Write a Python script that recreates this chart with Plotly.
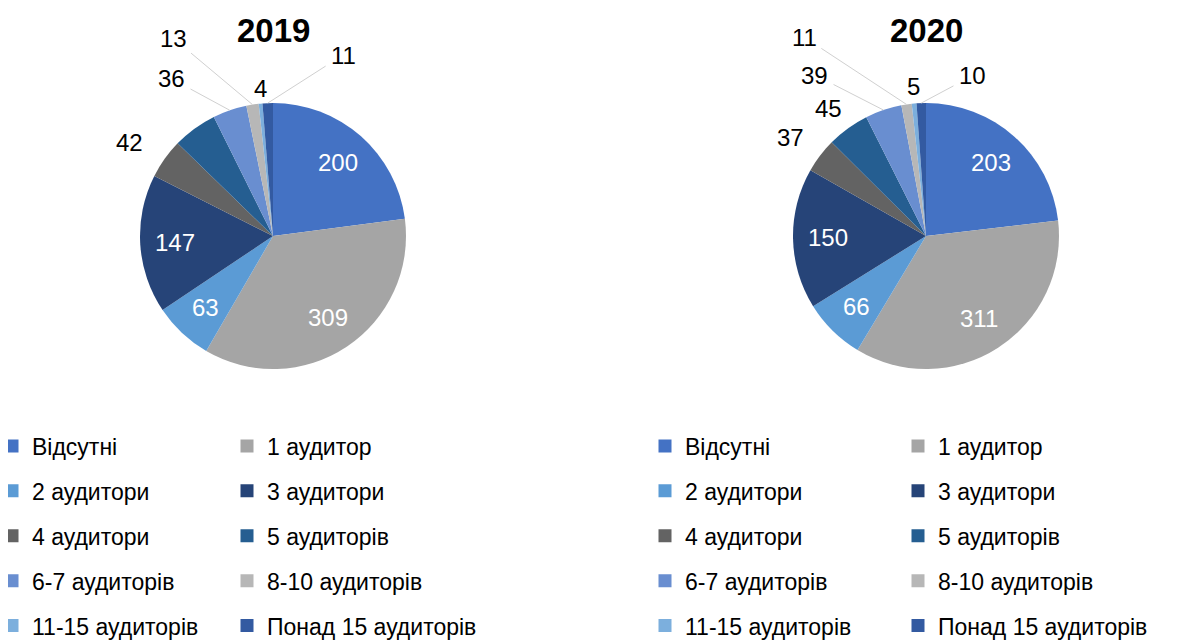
import math
import plotly.graph_objects as go

# Categories and values
categories = ["Відсутні", "1 аудитор", "2 аудитори", "3 аудитори", "4 аудитори",
              "5 аудиторів", "6-7 аудиторів", "8-10 аудиторів", "11-15 аудиторів",
              "Понад 15 аудиторів"]
values_2019 = [200, 309, 63, 147, 42, 47, 36, 13, 4, 11]   # "5 аудиторів" is unlabelled, estimated from angle
values_2020 = [203, 311, 66, 150, 37, 45, 39, 11, 5, 10]
years = ["2019", "2020"]

colors = ["#4472C4", "#A5A5A5", "#5B9BD5", "#264478", "#636363",
          "#255E91", "#698ED0", "#B7B7B7", "#7CAFDD", "#335AA1"]

W, H = 1199, 640
OFF = 8          # page margin around the figure in the browser
FONT = "Arial, 'Liberation Sans', sans-serif"
R = 133
INSIDE_R = 0.74  # inside labels sit at this fraction of the radius


def px_x(x):
    return (x - OFF) / W


def px_y(y):
    return 1 - (y - OFF) / H


# small slices get their labels outside: slice index -> (label x px, label y px, leader line)
outside_2019 = {4: (129, 142, False), 6: (172, 79, True), 7: (173, 38, True),
                8: (260, 88, False), 9: (343, 55, True)}
outside_2020 = {4: (790, 137, False), 5: (828, 108, False), 6: (815, 75, True),
                7: (804, 37, True), 8: (913, 87, False), 9: (972, 76, True)}

fig = go.Figure()
annotations = []


def add_pie(values, outside, cx, cy, year):
    fig.add_trace(go.Pie(
        labels=categories, values=values, name=year,
        sort=False, direction="clockwise", rotation=0,
        marker=dict(colors=colors, line=dict(width=0)),
        textinfo="none",
        domain=dict(x=[px_x(cx - R), px_x(cx + R)], y=[px_y(cy + R), px_y(cy - R)]),
        showlegend=False,
    ))
    total = sum(values)
    cum = 0
    for i, v in enumerate(values):
        mid = (cum + v / 2) / total * 2 * math.pi
        cum += v
        if i < 4:
            annotations.append(dict(
                text=str(v), x=px_x(cx + INSIDE_R * R * math.sin(mid)),
                y=px_y(cy - INSIDE_R * R * math.cos(mid)), xref="paper", yref="paper",
                showarrow=False, xanchor="center", yanchor="middle",
                font=dict(size=24, family=FONT, color="white")))
            continue
        if i not in outside:
            continue
        lx, ly, leader = outside[i]
        if leader:
            px = cx + R * math.sin(mid)
            py = cy - R * math.cos(mid)
            annotations.append(dict(
                text=str(v), x=px_x(px), y=px_y(py), xref="paper", yref="paper",
                ax=lx - px, ay=ly - py, showarrow=True, arrowhead=0, arrowwidth=1,
                arrowcolor="#d0d0d0", standoff=0, startstandoff=4,
                font=dict(size=24, family=FONT, color="black")))
        else:
            annotations.append(dict(
                text=str(v), x=px_x(lx), y=px_y(ly), xref="paper", yref="paper",
                showarrow=False, xanchor="center", yanchor="middle",
                font=dict(size=24, family=FONT, color="black")))


add_pie(values_2019, outside_2019, 273, 236, years[0])
add_pie(values_2020, outside_2020, 926, 236, years[1])

# legends: two columns under each pie (items alternate between the columns)
legend_cols = [("legend", -16, 0), ("legend2", 219, 1), ("legend3", 637, 0), ("legend4", 890, 1)]
for name, px, start in legend_cols:
    for k in range(start, len(categories), 2):
        fig.add_trace(go.Scatter(
            x=[None], y=[None], mode="markers", name=categories[k],
            marker=dict(symbol="square", size=13, color=colors[k], line=dict(width=0)),
            legend=name, legendgroup=f"{name}-{k}", hoverinfo="skip",
        ))

legend_style = dict(xanchor="left", y=0.3492, yanchor="top", orientation="v",
                    tracegroupgap=12, bgcolor="rgba(0,0,0,0)",
                    font=dict(size=23, family=FONT, color="black"))

for year, cx in zip(years, [273, 926]):
    annotations.append(dict(
        text=f"<b>{year}</b>", x=px_x(cx), y=px_y(30), xref="paper", yref="paper",
        xanchor="center", yanchor="middle", showarrow=False,
        font=dict(size=33, family=FONT, color="black")))

fig.update_layout(
    width=W, height=H,
    margin=dict(l=0, r=0, t=0, b=0, autoexpand=False),
    paper_bgcolor="white", plot_bgcolor="white",
    xaxis=dict(visible=False), yaxis=dict(visible=False),
    font=dict(family=FONT, color="black"),
    **{name: dict(x=px / W, **legend_style) for name, px, _ in legend_cols},
    annotations=annotations,
)

fig.write_html("out.html")
